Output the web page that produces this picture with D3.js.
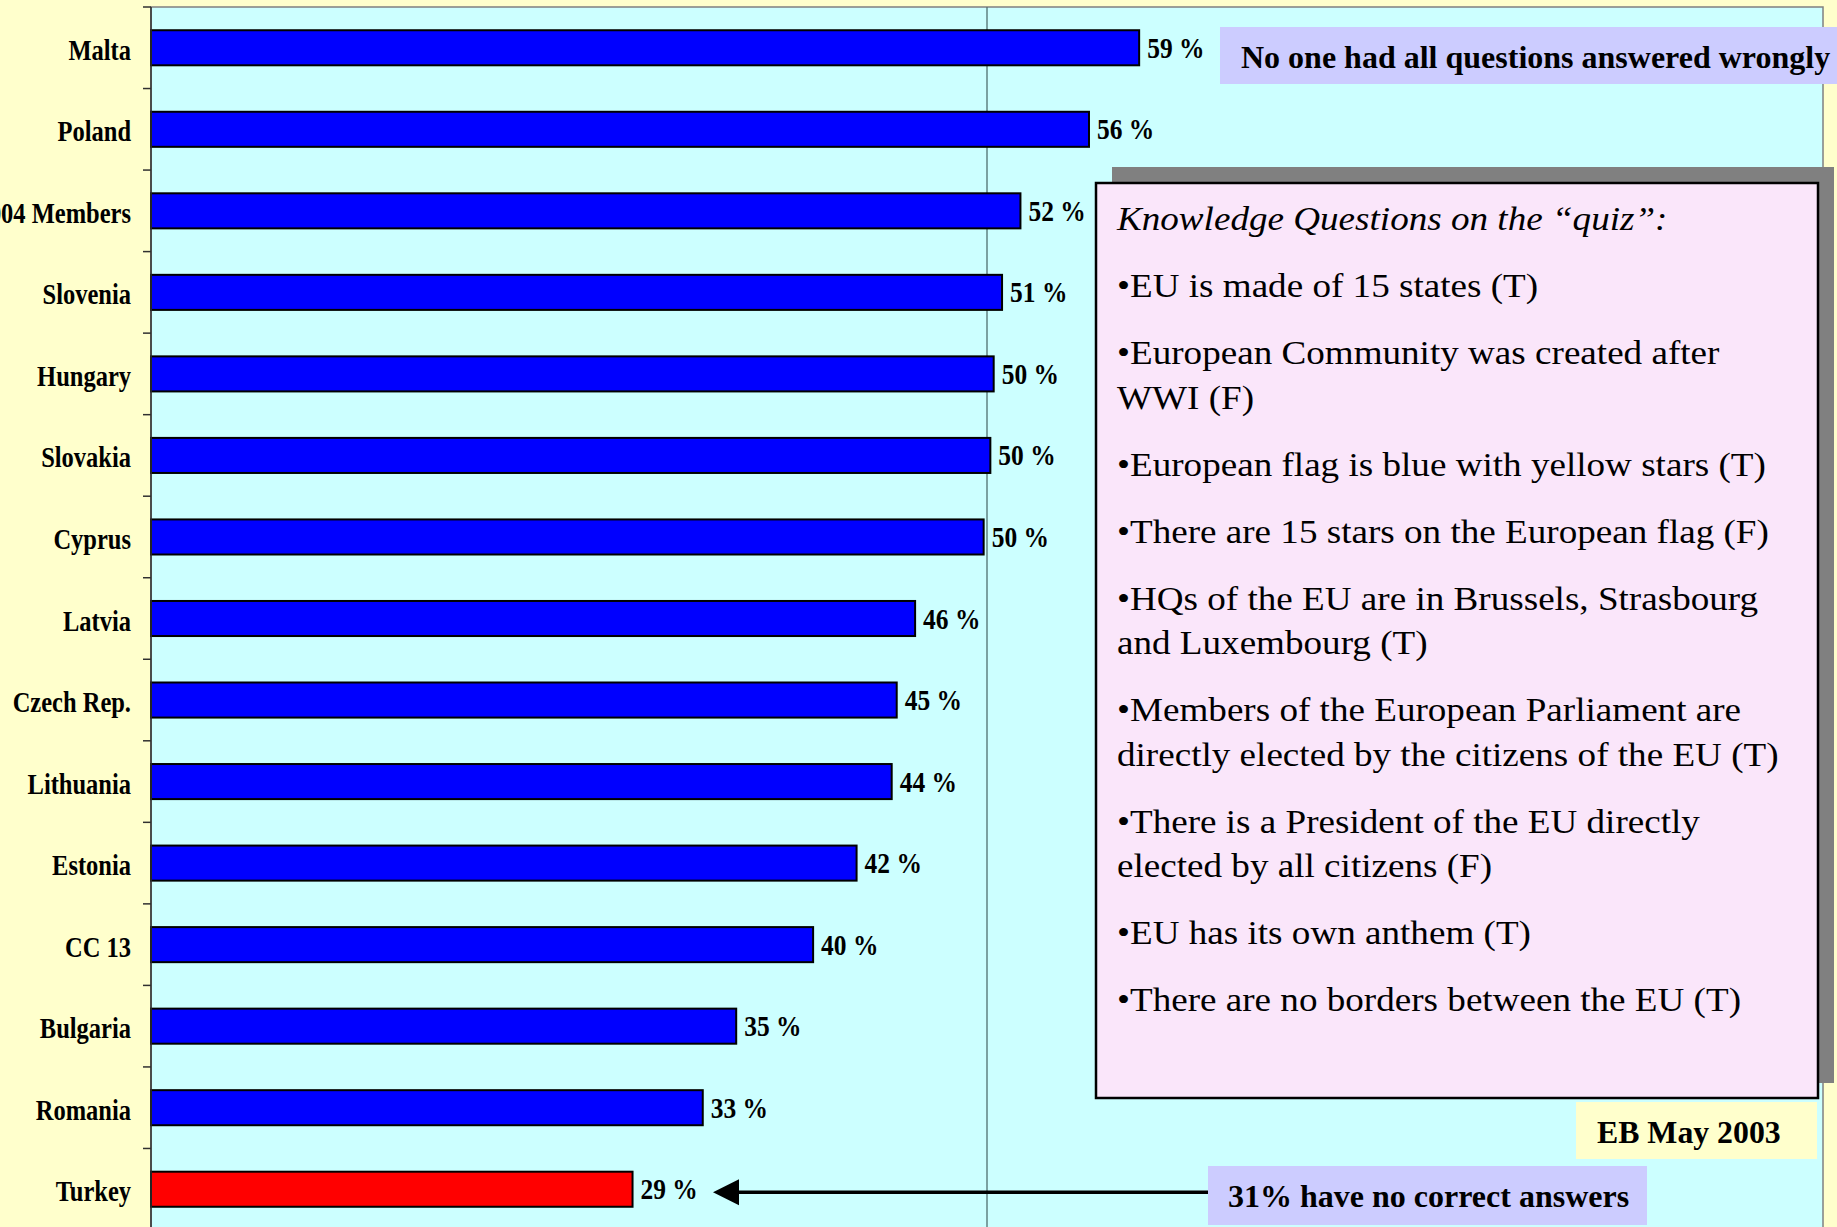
<!DOCTYPE html>
<html>
<head>
<meta charset="utf-8">
<script src="https://cdn.jsdelivr.net/npm/d3@7"></script>
<style>
  html, body { margin: 0; padding: 0; background: #ffffcc; }
  svg { display: block; }
</style>
</head>
<body>
<script>
'use strict';

// share of correct answers on the knowledge quiz (EB May 2003)
const countries = ['Malta', 'Poland', '2004 Members', 'Slovenia', 'Hungary', 'Slovakia', 'Cyprus',
    'Latvia', 'Czech Rep.', 'Lithuania', 'Estonia', 'CC 13', 'Bulgaria', 'Romania', 'Turkey'];
const values = [59.1, 56.1, 52.0, 50.9, 50.4, 50.2, 49.8, 45.7, 44.6, 44.3, 42.2, 39.6, 35.0, 33.0, 28.8];
const highlighted = ['Turkey'];
const gridValues = [50];

const quizTitle = 'Knowledge Questions on the \u201cquiz\u201d:';
const quizItems = [
    ['\u2022EU is made of 15 states (T)'],
    ['\u2022European Community was created after', 'WWI (F)'],
    ['\u2022European flag is blue with yellow stars (T)'],
    ['\u2022There are 15 stars on the European flag (F)'],
    ['\u2022HQs of the EU are in Brussels, Strasbourg', 'and Luxembourg (T)'],
    ['\u2022Members of the European Parliament are', 'directly elected by the citizens of the EU (T)'],
    ['\u2022There is a President of the EU directly', 'elected by all citizens (F)'],
    ['\u2022EU has its own anthem (T)'],
    ['\u2022There are no borders between the EU (T)']
];
const noteTop = 'No one had all questions answered wrongly';
const noteBottom = '31% have no correct answers';
const source = 'EB May 2003';

const W = 1837, H = 1227;
const serif = '"Liberation Serif", "Times New Roman", serif';

const svg = d3.select('body').append('svg')
    .attr('width', W)
    .attr('height', H);

svg.append('rect')
    .attr('width', W).attr('height', H)
    .attr('fill', '#ffffcc');

// scales
const x = d3.scaleLinear().domain([0, 100]).range([151, 1823]);
const y = d3.scaleBand().domain(countries).range([7, 1230])
    .paddingInner(0.57).paddingOuter(0.285);

// plot area
svg.append('rect')
    .attr('x', x(0)).attr('y', 7)
    .attr('width', x(100) - x(0)).attr('height', 1240)
    .attr('fill', '#ccffff')
    .attr('stroke', '#808080')
    .attr('stroke-width', 1.5);

// vertical gridline at 50 %
svg.selectAll('.grid')
    .data(gridValues)
    .enter()
    .append('line')
    .attr('class', 'grid')
    .attr('x1', d => x(d)).attr('x2', d => x(d))
    .attr('y1', 7).attr('y2', H)
    .attr('stroke', '#4f6f6f')
    .attr('stroke-width', 1.3);

// bars
svg.selectAll('.bar')
    .data(countries)
    .enter()
    .append('rect')
    .attr('class', 'bar')
    .attr('x', x(0))
    .attr('y', d => y(d))
    .attr('width', (d, i) => x(values[i]) - x(0))
    .attr('height', y.bandwidth())
    .attr('fill', d => highlighted.includes(d) ? '#ff0000' : '#0000ff')
    .attr('stroke', '#000')
    .attr('stroke-width', 2);

// y axis: line + ticks between categories, labels drawn separately
const step = y.step();
const tickYs = d3.range(countries.length + 1).map(k => 7 + k * step);
svg.append('line')
    .attr('x1', x(0)).attr('x2', x(0))
    .attr('y1', 7).attr('y2', H)
    .attr('stroke', '#303030')
    .attr('stroke-width', 1.5);
svg.selectAll('.tick')
    .data(tickYs)
    .enter()
    .append('line')
    .attr('class', 'tick')
    .attr('x1', x(0) - 8).attr('x2', x(0))
    .attr('y1', d => d).attr('y2', d => d)
    .attr('stroke', '#303030')
    .attr('stroke-width', 1.5);

// country labels (tall, condensed look of the original)
svg.selectAll('.label')
    .data(countries)
    .enter()
    .append('text')
    .attr('class', 'label')
    .attr('transform', d => `translate(131, ${y(d) + y.bandwidth() / 2 + 12}) scale(1, 1.2)`)
    .attr('text-anchor', 'end')
    .style('font-family', serif)
    .style('font-weight', 'bold')
    .style('font-size', '24.5px')
    .text(d => d);

// value labels
svg.selectAll('.value')
    .data(countries)
    .enter()
    .append('text')
    .attr('class', 'value')
    .attr('transform', (d, i) => `translate(${x(values[i]) + 8}, ${y(d) + y.bandwidth() / 2 + 10}) scale(1.04, 1.2)`)
    .style('font-family', serif)
    .style('font-weight', 'bold')
    .style('font-size', '24.5px')
    .text((d, i) => Math.round(values[i]) + ' %');

// top note
svg.append('rect')
    .attr('x', 1220).attr('y', 27)
    .attr('width', W - 1220).attr('height', 57)
    .attr('fill', '#ccccff');
svg.append('text')
    .attr('x', 1241).attr('y', 68)
    .style('font-family', serif)
    .style('font-weight', 'bold')
    .style('font-size', '32px')
    .text(noteTop);

// quiz box with shadow
svg.append('rect')
    .attr('x', 1112).attr('y', 167)
    .attr('width', 722).attr('height', 916)
    .attr('fill', '#808080');
svg.append('rect')
    .attr('x', 1096).attr('y', 183)
    .attr('width', 722).attr('height', 915)
    .attr('fill', '#fae6fa')
    .attr('stroke', '#000')
    .attr('stroke-width', 2.5);

const quizG = svg.append('g');
quizG.append('text')
    .attr('transform', 'translate(1117, 230) scale(1.125, 1)')
    .style('font-family', serif)
    .style('font-style', 'italic')
    .style('font-size', '33px')
    .text(quizTitle);

let baseY = 230;
quizItems.forEach(item => {
    baseY += 67;
    item.forEach((line, j) => {
        const ly = baseY + j * 44.5;
        quizG.append('text')
            .attr('transform', `translate(1117, ${ly}) scale(1.125, 1)`)
            .style('font-family', serif)
            .style('font-size', '33px')
            .text(line);
    });
    baseY += (item.length - 1) * 44.5;
});

// source box
svg.append('rect')
    .attr('x', 1576).attr('y', 1102)
    .attr('width', 241).attr('height', 57)
    .attr('fill', '#ffffcc');
svg.append('text')
    .attr('x', 1597).attr('y', 1143)
    .style('font-family', serif)
    .style('font-weight', 'bold')
    .style('font-size', '31.8px')
    .text(source);

// bottom note with arrow pointing at Turkey
const arrowY = y('Turkey') + y.bandwidth() / 2 + 3;
svg.append('line')
    .attr('x1', 1208).attr('x2', 736)
    .attr('y1', arrowY).attr('y2', arrowY)
    .attr('stroke', '#000')
    .attr('stroke-width', 3.5);
svg.append('path')
    .attr('d', `M713,${arrowY} L739,${arrowY - 13} L739,${arrowY + 13} Z`)
    .attr('fill', '#000');

svg.append('rect')
    .attr('x', 1208).attr('y', 1166)
    .attr('width', 439).attr('height', 59)
    .attr('fill', '#ccccff');
svg.append('text')
    .attr('x', 1228).attr('y', 1207)
    .style('font-family', serif)
    .style('font-weight', 'bold')
    .style('font-size', '32px')
    .text(noteBottom);
</script>
</body>
</html>
